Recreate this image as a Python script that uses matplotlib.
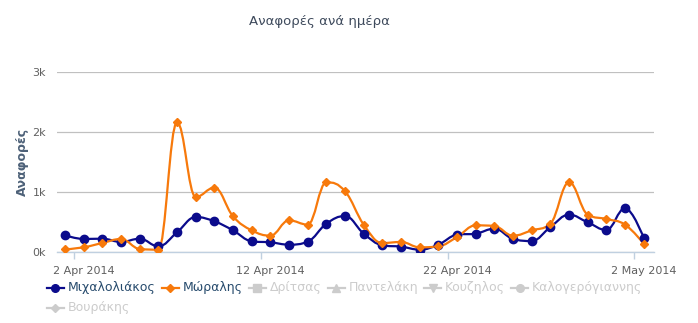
import numpy as np
import matplotlib
matplotlib.use("Agg")
import matplotlib.pyplot as plt
from matplotlib.path import Path
from matplotlib.patches import PathPatch
from matplotlib.lines import Line2D

# daily mentions, 1 Apr 2014 .. 2 May 2014
mixaloliakos = [278, 217, 222, 167, 222, 94, 328, 583, 511, 361, 178, 161, 122, 172, 472, 600,
                306, 111, 89, 39, 122, 289, 306, 389, 217, 183, 417, 622, 494, 367, 728, 233]
moralis = [44, 78, 150, 217, 50, 39, 2161, 917, 1072, 594, 361, 272, 528, 456, 1161, 1011,
           456, 150, 167, 78, 94, 250, 444, 433, 272, 361, 472, 1161, 622, 550, 456, 139]

tick_days = [1, 11, 21, 31]  # day index from 1 Apr
tick_labels = ["2 Apr 2014", "12 Apr 2014", "22 Apr 2014", "2 May 2014"]
y_ticks = [0, 1000, 2000, 3000]
y_labels = ["0k", "1k", "2k", "3k"]

legend_names = ["Μιχαλολιάκος", "Μώραλης", "Δρίτσας", "Παντελάκη", "Κουζηλος",
                "Καλογερόγιαννης", "Βουράκης"]
legend_markers = ["o", "D", "s", "^", "v", "o", "D"]
legend_visible = [True, True, False, False, False, False, False]

BLUE = "#0b0b8c"
ORANGE = "#f7790b"
GREY = "#cccccc"


def spline_path(xs, ys, smoothing=1.5):
    # cubic bezier through the points, same control-point rule as a highcharts spline
    n = len(xs)
    left = [(x, y) for x, y in zip(xs, ys)]
    right = [(x, y) for x, y in zip(xs, ys)]
    d = smoothing + 1
    for i in range(1, n - 1):
        x, y = xs[i], ys[i]
        lx, ly = xs[i - 1], ys[i - 1]
        nx, ny = xs[i + 1], ys[i + 1]
        lcx = (smoothing * x + lx) / d
        lcy = (smoothing * y + ly) / d
        rcx = (smoothing * x + nx) / d
        rcy = (smoothing * y + ny) / d
        corr = 0
        if rcx != lcx:
            corr = (rcy - lcy) * (rcx - x) / (rcx - lcx) + y - rcy
        lcy += corr
        rcy += corr
        if lcy > ly and lcy > y:
            lcy = max(ly, y)
            rcy = 2 * y - lcy
        elif lcy < ly and lcy < y:
            lcy = min(ly, y)
            rcy = 2 * y - lcy
        if rcy > ny and rcy > y:
            rcy = max(ny, y)
            lcy = 2 * y - rcy
        elif rcy < ny and rcy < y:
            rcy = min(ny, y)
            lcy = 2 * y - rcy
        left[i] = (lcx, lcy)
        right[i] = (rcx, rcy)
    verts = [(xs[0], ys[0])]
    codes = [Path.MOVETO]
    for i in range(1, n):
        verts += [right[i - 1], left[i], (xs[i], ys[i])]
        codes += [Path.CURVE4] * 3
    return Path(verts, codes)


W, H = 698, 323
fig = plt.figure(figsize=(W / 100, H / 100), dpi=100)
ax = fig.add_axes([57 / W, 71 / H, 597 / W, 180 / H])

days = np.arange(len(mixaloliakos))
for vals, color, marker, ms in [(mixaloliakos, BLUE, "o", 6), (moralis, ORANGE, "D", 4.5)]:
    ax.add_patch(PathPatch(spline_path(days, vals), fill=False, edgecolor=color, lw=1.6,
                           capstyle="round", joinstyle="round", zorder=3))
    ax.plot(days, vals, ls="none", marker=marker, ms=ms, color=color, mec=color, zorder=4)

ax.set_xlim(-0.43, 31.55)
ax.set_ylim(0, 3000)

ax.set_yticks(y_ticks)
ax.set_yticklabels(y_labels)
ax.set_xticks(tick_days)
ax.set_xticklabels(tick_labels)
ax.set_xticks([d - 0.5 for d in tick_days], minor=True)
ax.tick_params(axis="x", which="major", length=0, pad=10, labelsize=8, labelcolor="#606060")
ax.tick_params(axis="x", which="minor", length=5, width=1, color="#c0d0e0")
ax.tick_params(axis="y", length=0, pad=8, labelsize=8, labelcolor="#606060")
ax.grid(axis="y", color="#c0c0c0", lw=0.9)
ax.set_axisbelow(True)
for s in ["top", "right", "left"]:
    ax.spines[s].set_visible(False)
ax.spines["bottom"].set_color("#c0d0e0")
ax.spines["bottom"].set_linewidth(1)

fig.text(22 / W, 1 - 162 / H, "Αναφορές", rotation=90, ha="center", va="center",
         fontsize=9, fontweight="bold", color="#4d6178")
fig.text(319 / W, 1 - 22 / H, "Αναφορές ανά ημέρα", ha="center", va="center",
         fontsize=9.5, color="#3e4a5c")

# legend, laid out by hand in two rows
renderer = fig.canvas.get_renderer()
rows = [(0, 6, 288), (6, 7, 308)]
for start, stop, ypix in rows:
    x = 47
    yf = 1 - ypix / H
    for i in range(start, stop):
        col = ([BLUE, ORANGE][i] if legend_visible[i] else GREY)
        tcol = "#274b6d" if legend_visible[i] else GREY
        fig.add_artist(Line2D([x / W, (x + 17) / W], [yf, yf], color=col, lw=1.6,
                              transform=fig.transFigure))
        fig.add_artist(Line2D([(x + 8.5) / W], [yf], ls="none", marker=legend_markers[i],
                              ms=5.5 if legend_markers[i] != "D" else 4.5, color=col,
                              transform=fig.transFigure))
        t = fig.text((x + 21) / W, yf, legend_names[i], ha="left", va="center",
                     fontsize=9, color=tcol)
        x += 21 + t.get_window_extent(renderer).width + 6

fig.savefig("out.png", dpi=100)
